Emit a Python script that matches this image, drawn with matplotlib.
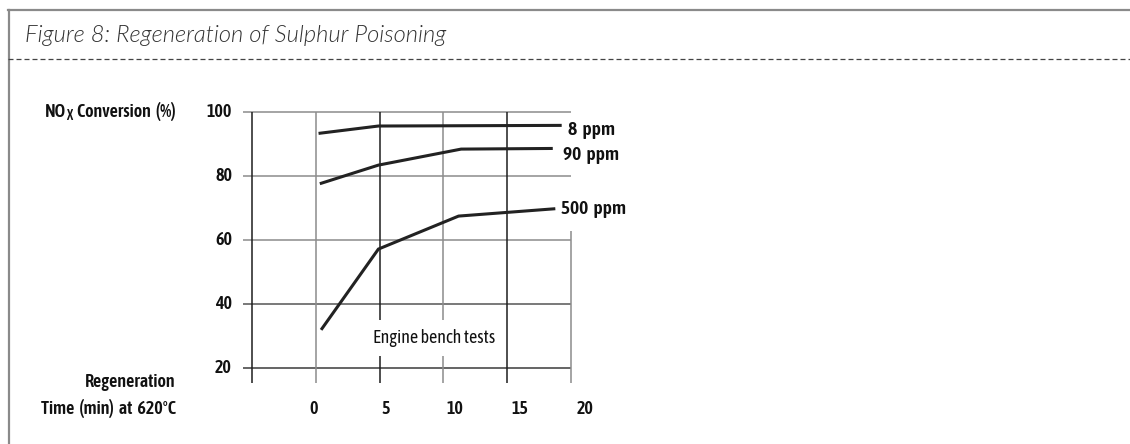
import matplotlib
matplotlib.use("Agg")
import matplotlib.pyplot as plt
from matplotlib.lines import Line2D
from matplotlib import font_manager as fm
from matplotlib.transforms import IdentityTransform
import os

# ---------------- data ----------------
time_8 = [0.2, 4.9, 19.3]
conv_8 = [93.2, 95.5, 95.7]
time_90 = [0.3, 4.9, 11.4, 18.6]
conv_90 = [77.5, 83.3, 88.3, 88.5]
time_500 = [0.4, 4.9, 11.2, 18.8]
conv_500 = [31.9, 57.1, 67.4, 69.7]
series_labels = ["8 ppm", "90 ppm", "500 ppm"]
y_ticks = [20, 40, 60, 80, 100]
x_tick_labels = ["0", "5", "10", "15", "20"]
x_grid = [-5, 0, 5, 10, 15, 20]

title = "Figure 8: Regeneration of Sulphur Poisoning"
note = "Engine bench tests"

# ---------------- fonts ----------------
def _w(f):
    w = f.weight
    if isinstance(w, str):
        w = fm.weight_dict.get(w, 400)
    return int(w)

def pick_font(style_name, target_weight):
    files = fm.fontManager.ttflist
    exact = sorted(f.fname for f in files
                   if os.path.basename(f.fname).lower() == ("asapcondensed-%s.ttf" % style_name).lower())
    if exact:
        return fm.FontProperties(fname=exact[0])
    cands = [f for f in files
             if "asapcondensed" in os.path.basename(f.fname).lower().replace("-", "")
             and "[" not in f.fname and f.style == "normal"]
    if cands:
        best = min(cands, key=lambda f: (abs(_w(f) - target_weight), f.fname))
        return fm.FontProperties(fname=best.fname)
    return fm.FontProperties(family=["Roboto", "DejaVu Sans"], weight=target_weight)

FP_MED = pick_font("SemiBold", 600)
FP_REG = pick_font("Regular", 400)

def fp(base, size):
    p = base.copy()
    p.set_size(size)
    return p

# ---------------- layout ----------------
W, H, DPI = 1130, 444, 100
fig = plt.figure(figsize=(W / DPI, H / DPI), dpi=DPI)
fig.patch.set_facecolor("white")

X0PX, XSCALE = 316.0, 12.73
Y80PX, YSCALE = 175.7, 3.205
def dx(px):
    return (px - X0PX) / XSCALE
def dy(py):
    return 80 - (py - Y80PX) / YSCALE

L, R, T, B = 200, 650, 90, 430
ax = fig.add_axes([L / W, 1 - B / H, (R - L) / W, (B - T) / H])
ax.set_xlim(dx(L), dx(R))
ax.set_ylim(dy(B), dy(T))
ax.axis("off")

DARK = "#1e1e1e"
GRAY = "#8c8c8c"
TXT = "#111111"
glw = 1.1
SZ = 13

hcolors = {20: "#3a3a3a", 40: "#555555", 60: GRAY, 80: GRAY, 100: GRAY}
for v in y_ticks:
    ax.plot([dx(242.7), x_grid[-1]], [v, v], color=hcolors[v], lw=glw,
            solid_capstyle="butt", clip_on=False, zorder=1)
    ax.text(dx(232), v, str(v), ha="right", va="center",
            fontproperties=fp(FP_MED, SZ), color=TXT)

ybot = dy(382.7)
vcolors = [DARK, GRAY, DARK, GRAY, DARK, GRAY]
for xv, c in zip(x_grid, vcolors):
    ytop = y_ticks[-1] if xv != x_grid[-1] else dy(231)
    ax.plot([xv, xv], [ybot, ytop], color=c, lw=glw, solid_capstyle="butt",
            clip_on=False, zorder=1)

x_label_pos = [-0.15, 5.5, 10.9, 16.0, 21.1]
for xp, lab in zip(x_label_pos, x_tick_labels):
    ax.text(xp, dy(408.5), lab, ha="center", va="center",
            fontproperties=fp(FP_MED, SZ), color=TXT)

lw = 2.2
for t, c in ((time_8, conv_8), (time_90, conv_90), (time_500, conv_500)):
    ax.plot(t, c, color="#222222", lw=lw, solid_capstyle="butt",
            solid_joinstyle="miter", zorder=3, clip_on=False)

lab_pos = [(dx(568), dy(129.5)), (dx(563), dy(155)), (dx(561), dy(209))]
for (xp, yp), s in zip(lab_pos, series_labels):
    ax.text(xp, yp, s.replace(" ", "  "), ha="left", va="center",
            fontproperties=fp(FP_MED, 14), color=TXT, zorder=4)

ax.text(dx(434), dy(338), note, ha="center", va="center",
        fontproperties=fp(FP_REG, 13), color=TXT, zorder=2,
        bbox=dict(boxstyle="square,pad=0.5", fc="white", ec="none"))

ax.text(dx(175.7), dy(381.5), "Regeneration", ha="right", va="center",
        fontproperties=fp(FP_MED, SZ), color=TXT)
ax.text(dx(175.7), dy(408), "Time  (min)  at  620°C", ha="right", va="center",
        fontproperties=fp(FP_MED, SZ), color=TXT)

renderer = fig.canvas.get_renderer()
ybase = H - 116.5
t1 = fig.text(175.7, ybase, "  Conversion  (%)", ha="right", va="baseline",
              fontproperties=fp(FP_MED, SZ), color=TXT,
              transform=IdentityTransform())
x_left = t1.get_window_extent(renderer).x0
t2 = fig.text(x_left, ybase - 3.5, "X", ha="right", va="baseline",
              fontproperties=fp(FP_MED, SZ * 0.75), color=TXT,
              transform=IdentityTransform())
x_left = t2.get_window_extent(renderer).x0
fig.text(x_left, ybase, "NO", ha="right", va="baseline",
         fontproperties=fp(FP_MED, SZ), color=TXT,
         transform=IdentityTransform())

fig.add_artist(Line2D([8 / W, 1], [1 - 10 / H, 1 - 10 / H], color="#8a8a8a",
                      lw=1.6, transform=fig.transFigure))
fig.add_artist(Line2D([8.5 / W, 8.5 / W], [0, 1 - 10 / H], color="#8a8a8a",
                      lw=1.6, transform=fig.transFigure))
fig.add_artist(Line2D([8 / W, 1], [1 - 59 / H, 1 - 59 / H], color="#444444",
                      lw=0.9, linestyle=(0, (4.0, 2.4)),
                      transform=fig.transFigure))
fig.text(25 / W, 1 - 35 / H, title, ha="left", va="center", fontsize=17.1,
         family=["Lato", "Open Sans", "DejaVu Sans"], style="italic",
         fontweight=300, color="#333333")

fig.savefig("out.png", dpi=DPI, facecolor="white")
